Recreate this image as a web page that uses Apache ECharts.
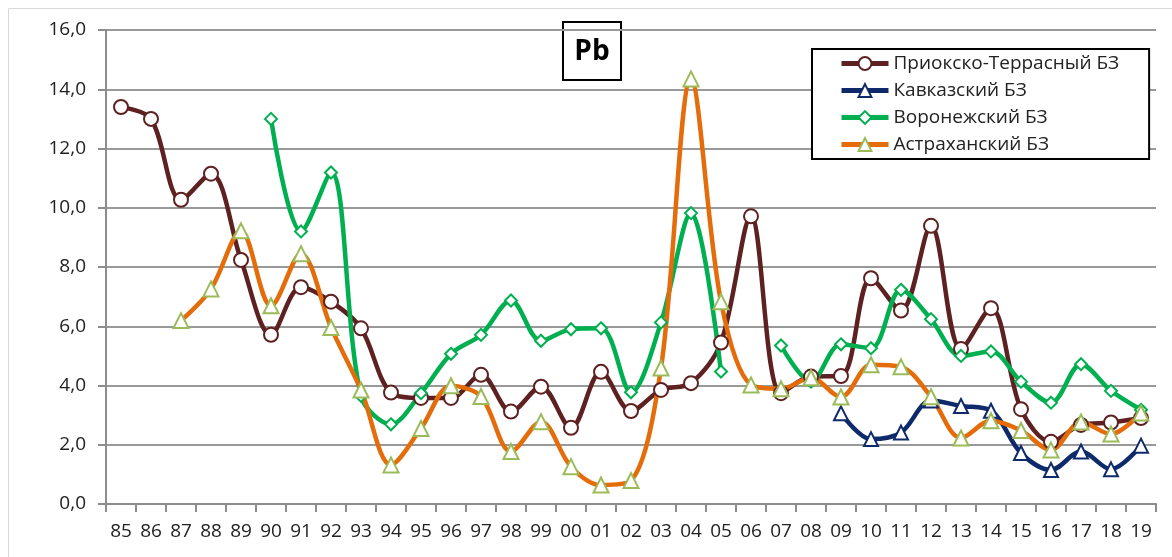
<!DOCTYPE html>
<html>
<head>
<meta charset="utf-8">
<script src="https://cdn.jsdelivr.net/npm/echarts@6/dist/echarts.min.js"></script>
<style>
html,body{margin:0;padding:0;background:#fff;}
#chart{width:1172px;height:557px;}
</style>
</head>
<body>
<div id="chart"></div>
<script>
var years = ['85','86','87','88','89','90','91','92','93','94','95','96','97','98','99','00','01','02','03','04','05','06','07','08','09','10','11','12','13','14','15','16','17','18','19'];
var yTicks = [0, 2, 4, 6, 8, 10, 12, 14, 16];

var prioksko = [13.4, 13.0, 10.27, 11.15, 8.24, 5.71, 7.32, 6.83, 5.93, 3.76, 3.58, 3.58, 4.36, 3.12, 3.96, 2.57, 4.46, 3.14, 3.85, 4.08, 5.45, 9.71, 3.74, 4.3, 4.32, 7.62, 6.53, 9.39, 5.23, 6.61, 3.2, 2.1, 2.67, 2.75, 2.9];
var kavkaz = [null, null, null, null, null, null, null, null, null, null, null, null, null, null, null, null, null, null, null, null, null, null, null, null, 3.06, 2.19, 2.41, 3.49, 3.31, 3.15, 1.72, 1.15, 1.77, 1.17, 1.97];
var voronezh = [null, null, null, null, null, 13.0, 9.2, 11.19, 3.65, 2.69, 3.74, 5.07, 5.71, 6.87, 5.51, 5.9, 5.93, 3.77, 6.13, 9.82, 4.47, null, 5.35, 4.13, 5.39, 5.26, 7.23, 6.24, 5.0, 5.15, 4.13, 3.42, 4.72, 3.82, 3.18];
var astrakhan = [null, null, 6.19, 7.26, 9.22, 6.69, 8.45, 5.96, 3.85, 1.32, 2.55, 3.99, 3.63, 1.77, 2.78, 1.26, 0.64, 0.79, 4.59, 14.35, 6.83, 4.02, 3.89, 4.26, 3.61, 4.7, 4.63, 3.62, 2.23, 2.81, 2.48, 1.82, 2.77, 2.36, 3.07];

var seriesNames = ['Приокско-Террасный БЗ', 'Кавказский БЗ', 'Воронежский БЗ', 'Астраханский БЗ'];

var FONT = '"Open Sans", "Noto Sans", sans-serif';
var chart = echarts.init(document.getElementById('chart'), null, {renderer: 'canvas'});

function mkSeries(name, data, lineColor, symbol, symbolSize, markerColor) {
  return {
    name: name,
    type: 'line',
    data: data,
    smooth: 0.33,
    connectNulls: false,
    symbol: symbol,
    symbolSize: symbolSize,
    showSymbol: true,
    lineStyle: {color: lineColor, width: 4.5},
    itemStyle: {color: '#fff', borderColor: markerColor, borderWidth: 2},
    emphasis: {disabled: true},
    animation: false
  };
}

var option = {
  backgroundColor: '#fff',
  animation: false,
  grid: {left: 106, right: 16, top: 30, bottom: 53, containLabel: false},
  xAxis: {
    type: 'category',
    data: years,
    boundaryGap: true,
    axisLine: {lineStyle: {color: '#8c8c8c', width: 2}},
    axisTick: {show: true, length: 8, lineStyle: {color: '#8c8c8c', width: 2}},
    axisLabel: {fontFamily: FONT, fontSize: 19, color: '#222', margin: 18, interval: 0}
  },
  yAxis: {
    type: 'value',
    min: yTicks[0],
    max: yTicks[yTicks.length - 1],
    interval: 2,
    axisLine: {show: true, lineStyle: {color: '#8c8c8c', width: 2}},
    axisTick: {show: true, length: 8, lineStyle: {color: '#8c8c8c', width: 2}},
    splitLine: {lineStyle: {color: '#999', width: 2}},
    axisLabel: {
      fontFamily: FONT, fontSize: 19, color: '#222', margin: 20,
      formatter: function (v) { return v.toFixed(1).replace('.', ','); }
    }
  },
  legend: {
    orient: 'vertical',
    left: 812,
    top: 49,
    itemWidth: 47,
    itemHeight: 16,
    itemGap: 8,
    padding: [5, 30, 5, 27],
    borderColor: '#000',
    borderWidth: 2,
    backgroundColor: '#fff',
    lineStyle: {width: 5},
    textStyle: {fontFamily: FONT, fontSize: 19, color: '#222'},
    data: seriesNames
  },
  series: [
    mkSeries(seriesNames[0], prioksko, '#5e2121', 'circle', 14, '#5e2121'),
    mkSeries(seriesNames[1], kavkaz, '#0f2a6b', 'triangle', 14, '#0f2a6b'),
    mkSeries(seriesNames[2], voronezh, '#00b050', 'diamond', 12, '#00b050'),
    mkSeries(seriesNames[3], astrakhan, '#e46c0a', 'triangle', 15, '#9bbb59')
  ],
  graphic: [
    {
      type: 'rect', z: 0, silent: true,
      shape: {x: 8.5, y: 8.5, width: 1300, height: 700},
      style: {fill: 'none', stroke: '#d9d9d9', lineWidth: 1}
    },
    {
      type: 'group', z: 200,
      children: [
        {type: 'rect', shape: {x: 563, y: 22, width: 58, height: 58}, style: {fill: '#fff', stroke: '#000', lineWidth: 2}},
        {type: 'text', x: 592, y: 52, style: {text: 'Pb', font: 'bold 28px ' + FONT, fill: '#000', align: 'center', verticalAlign: 'middle'}}
      ]
    }
  ]
};
chart.setOption(option);
</script>
</body>
</html>
